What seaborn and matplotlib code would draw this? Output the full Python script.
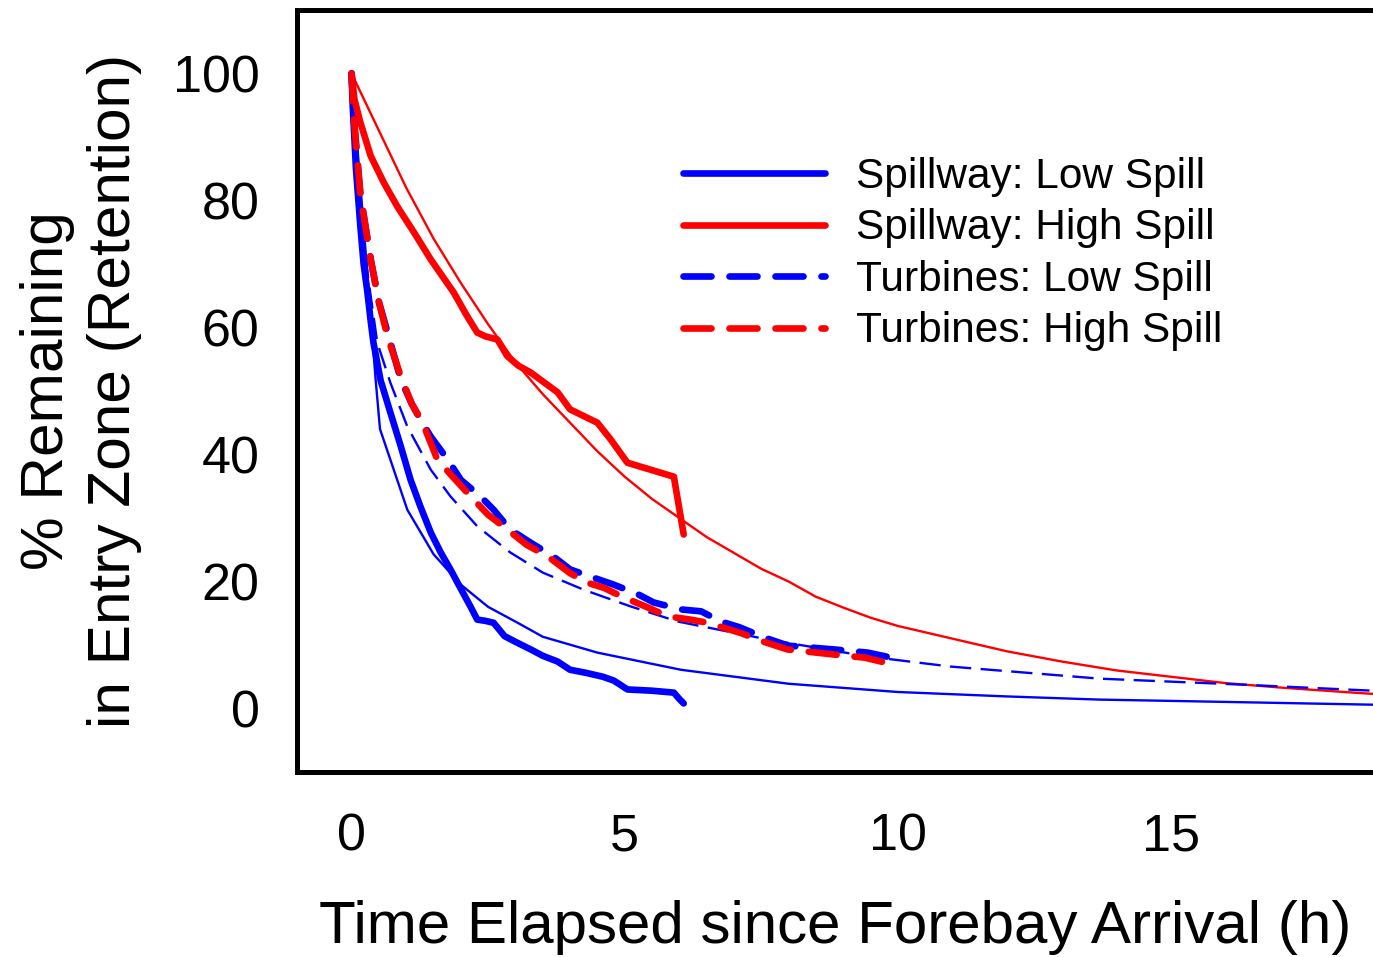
import matplotlib
matplotlib.use("Agg")
import matplotlib.pyplot as plt
import seaborn as sns

# Spillway, low spill (observed, thick)
sl_t = [0, 0.02, 0.08, 0.16, 0.22, 0.29, 0.35, 0.4, 0.53, 0.71, 0.9, 1.08, 1.26, 1.45, 1.63,
        1.81, 1.94, 2.18, 2.3, 2.45, 2.6, 2.8, 3.0, 3.28, 3.5, 3.77, 4.0, 4.3, 4.6, 4.8, 5.05,
        5.5, 5.9, 6.0, 6.08]
sl_v = [100, 95, 85, 76, 70, 65.5, 61, 57.6, 51.7, 46.6, 41.3, 36, 31.8, 27.7, 24.6,
        21.9, 19.8, 16, 14, 13.8, 13.5, 11.4, 10.5, 9.3, 8.3, 7.4, 6.1, 5.6, 5.0, 4.4, 3.0,
        2.8, 2.5, 1.5, 0.8]

# Spillway, high spill
sh_t = [0, 0.05, 0.16, 0.35, 0.59, 0.84, 1.14, 1.45, 1.87, 2.1, 2.3, 2.45, 2.67, 2.85, 3.05, 3.28,
        3.5, 3.77, 4.0, 4.5, 4.74, 5.05, 5.9, 6.08]
sh_v = [100, 96, 92.3, 87, 82.8, 79, 75, 70.7, 65.5, 62, 59.2, 58.6, 58.1, 55.5, 54, 52.9,
        51.5, 49.8, 47.1, 45, 42.4, 38.7, 36.5, 27.4]

# Turbines, low spill
tl_t = [0, 0.04, 0.16, 0.35, 0.5, 0.66, 0.9, 1.1, 1.26, 1.45, 1.76, 2.0, 2.36, 2.6, 2.9, 3.28,
        3.7, 4.0, 4.43, 4.8, 5.24, 5.53, 6.03, 6.4, 6.76, 7.1, 7.55, 7.99, 8.83, 9.45, 10.05]
tl_v = [100, 93, 81, 70.7, 64, 59.2, 51.8, 48, 45.5, 42.8, 39.2, 36, 33.4, 31.3, 28.2, 26.1,
        23.9, 21.9, 20.6, 19.5, 18, 16.7, 15.6, 15.3, 13.7, 12.8, 11.2, 9.9, 9.3, 8.8, 7.7]

# Turbines, high spill
th_t = [0, 0.04, 0.16, 0.35, 0.5, 0.66, 0.9, 1.1, 1.3, 1.57, 1.85, 2.18, 2.5, 2.85, 3.2, 3.6,
        4.0, 4.32, 4.62, 4.98, 5.4, 5.79, 6.2, 6.52, 7.12, 7.55, 7.98, 8.83, 9.4, 9.93]
th_v = [100, 93, 81, 70.7, 64, 58.5, 52.3, 48, 45, 39.2, 36.5, 33.4, 30.5, 28.2, 25.8, 23.9,
        21.3, 19.8, 19, 17.5, 16, 14.5, 14, 13.5, 11.9, 10.5, 9.3, 8.5, 8.0, 6.9]

# fitted curves (thin)
fit_sl_t = [0, 0.44, 0.52, 1.02, 1.5, 2.0, 2.5, 3.04, 3.5, 4.5, 6.03, 8, 10, 12, 13.7, 15, 18.7]
fit_sl_v = [100, 51.8, 44, 31.3, 24.3, 19.5, 16, 13.5, 11.3, 8.8, 6.1, 3.9, 2.6, 1.9, 1.4, 1.2, 0.6]

fit_sh_t = [0, 0.5, 1, 1.5, 2, 2.5, 3, 3.5, 4, 4.5, 5, 5.5, 6, 6.5, 7, 7.5, 8, 8.5, 9, 9.5, 10,
            11, 12, 13, 14, 15, 16, 17, 18, 18.7]
fit_sh_v = [100, 91, 82, 74, 67, 60.5, 54.5, 49.5, 45, 40.5, 36.5, 33, 30, 27, 24.5, 22, 20,
            17.6, 15.9, 14.3, 13, 11, 9, 7.4, 6, 5, 4, 3.3, 2.7, 2.3]

fit_tu_t = [0, 0.1, 0.2, 0.3, 0.47, 0.71, 1.02, 1.45, 1.81, 2.3, 2.9, 3.5, 4.25, 5.1, 5.97, 7.6,
            9.45, 10.97, 13.7, 16.2, 18.7]
fit_tu_v = [100, 86, 76, 68, 57.6, 51.3, 44.4, 37.6, 33.4, 28.7, 24.6, 21.4, 18.7, 16.1, 13.7, 10.9,
            8.2, 6.6, 4.7, 3.8, 2.8]

sns.set_style("white")
plt.rcParams["font.family"] = ["Liberation Sans", "DejaVu Sans"]
plt.rcParams["text.color"] = "black"
plt.rcParams["axes.labelcolor"] = "black"
plt.rcParams["xtick.color"] = "black"
plt.rcParams["ytick.color"] = "black"

fig = plt.figure(figsize=(13.73, 9.57), dpi=100)
ax = fig.add_axes([0.2163, 0.1933, 0.7837, 0.7963])

thin = 1.7
thick = 4.8

# fitted curves
sns.lineplot(x=fit_sl_t, y=fit_sl_v, ax=ax, color="blue", lw=thin, sort=False, estimator=None)
sns.lineplot(x=fit_sh_t, y=fit_sh_v, ax=ax, color="red", lw=thin, sort=False, estimator=None)
sns.lineplot(x=fit_tu_t, y=fit_tu_v, ax=ax, color="blue", lw=thin, sort=False, estimator=None)
ax.lines[-1].set_dashes([9, 4])

# observed retention
sns.lineplot(x=sl_t, y=sl_v, ax=ax, color="blue", lw=thick, sort=False, estimator=None,
             label="Spillway: Low Spill")
sns.lineplot(x=sh_t, y=sh_v, ax=ax, color="red", lw=thick, sort=False, estimator=None,
             label="Spillway: High Spill")
sns.lineplot(x=tl_t, y=tl_v, ax=ax, color="blue", lw=thick, sort=False, estimator=None,
             label="Turbines: Low Spill")
ax.lines[-1].set_dashes([4.2, 2.7])
sns.lineplot(x=th_t, y=th_v, ax=ax, color="red", lw=thick, sort=False, estimator=None,
             label="Turbines: High Spill")
ax.lines[-1].set_dashes([4.2, 2.7])
for ln in ax.lines[3:]:
    ln.set_solid_capstyle("round")
    ln.set_solid_joinstyle("round")
    ln.set_dash_capstyle("round")
    ln.set_dash_joinstyle("round")

ax.set_xlim(-1, 18.7)
ax.set_ylim(-10, 110)
ax.set_xticks([0, 5, 10, 15])
ax.set_yticks([0, 20, 40, 60, 80, 100])

for side in ["left", "top", "bottom"]:
    ax.spines[side].set_linewidth(3.6)
    ax.spines[side].set_color("black")
ax.spines["right"].set_visible(False)
ax.tick_params(direction="out", length=9, width=3, labelsize=37.5, pad=18)
ax.tick_params(axis="x", pad=20)

ax.set_xlabel("Time Elapsed since Forebay Arrival (h)", fontsize=43.3, labelpad=28)
ax.set_ylabel("% Remaining\nin Entry Zone (Retention)", fontsize=43.5, labelpad=22,
              linespacing=1.28)

leg = ax.legend(loc="upper left", bbox_to_anchor=(0.323, 0.857), frameon=False, fontsize=30.5,
                handlelength=3.37, handletextpad=0.72, labelspacing=0.27)
for h in leg.get_lines():
    h.set_solid_capstyle("round")
    h.set_dash_capstyle("round")

fig.savefig("out.png", dpi=100)
